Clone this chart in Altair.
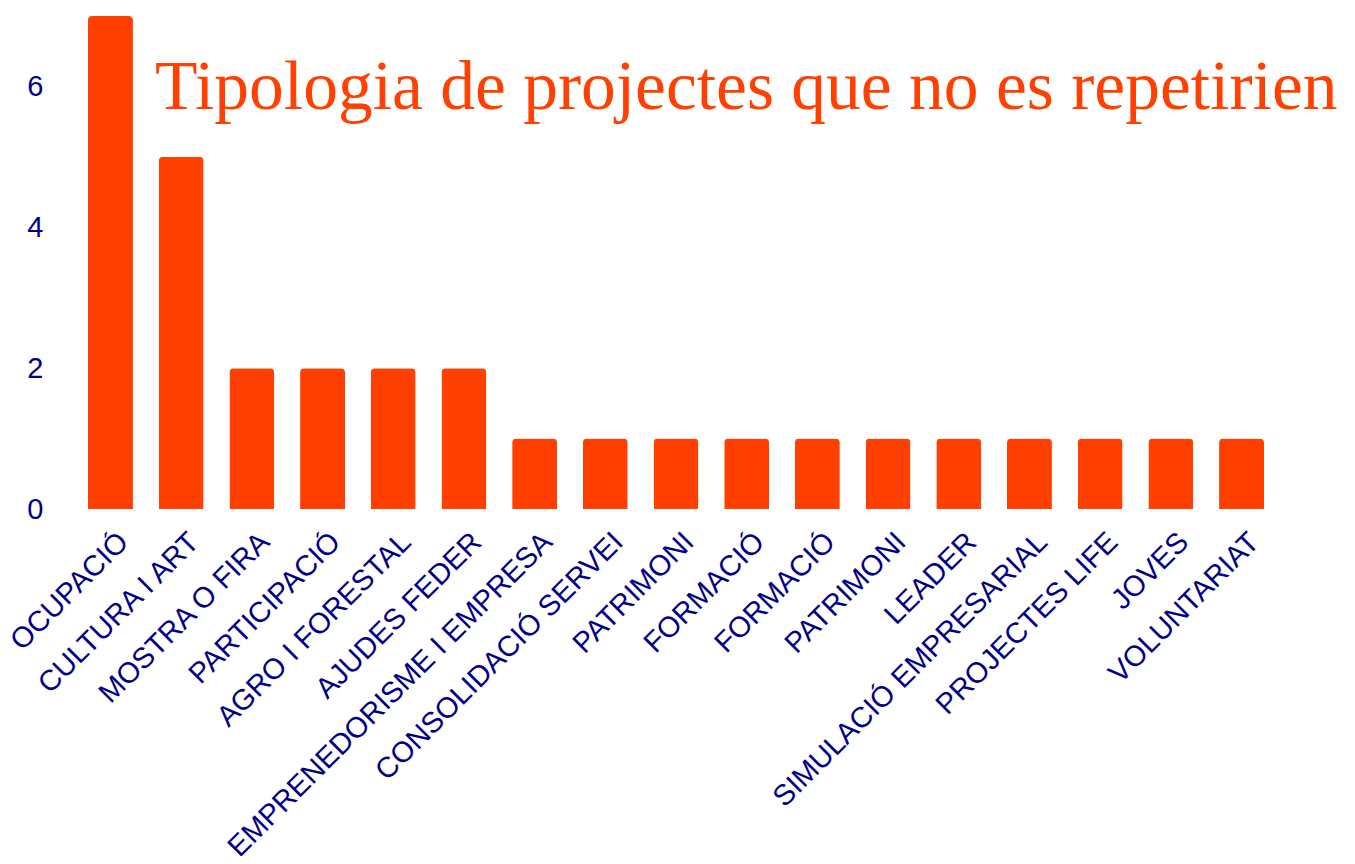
import json
import altair as alt
import pandas as pd

categories = [
    "OCUPACIÓ", "CULTURA I ART", "MOSTRA O FIRA", "PARTICIPACIÓ", "AGRO I FORESTAL",
    "AJUDES FEDER", "EMPRENEDORISME I EMPRESA", "CONSOLIDACIÓ SERVEI", "PATRIMONI",
    "FORMACIÓ", "FORMACIÓ", "PATRIMONI", "LEADER", "SIMULACIÓ EMPRESARIAL",
    "PROJECTES LIFE", "JOVES", "VOLUNTARIAT",
]
values = [7, 5, 2, 2, 2, 2, 1, 1, 1, 1, 1, 1, 1, 1, 1, 1, 1]
y_ticks = [0, 2, 4, 6]
title_text = "Tipologia de projectes que no es repetirien"

df = pd.DataFrame({"idx": list(range(len(categories))), "cat": categories, "val": values})

BAR = "#FF4000"
LAB = "#000088"

label_expr = json.dumps(categories, ensure_ascii=False) + "[datum.value]"

W, H = 1232, 493

bars = alt.Chart(df).mark_bar(
    color=BAR, cornerRadiusTopLeft=4, cornerRadiusTopRight=4
).encode(
    x=alt.X("idx:O", sort="ascending",
            scale=alt.Scale(paddingInner=0.364, paddingOuter=0.396),
            axis=alt.Axis(title=None, labelAngle=-45, labelExpr=label_expr,
                          domain=False, ticks=False, labelFontSize=29,
                          labelFont="Liberation Sans", labelColor=LAB,
                          labelAlign="right", labelBaseline="middle",
                          labelPadding=28, labelOffset=13,
                          labelOverlap=False, labelLimit=0)),
    y=alt.Y("val:Q", scale=alt.Scale(domain=[0, 7], nice=False),
            axis=alt.Axis(title=None, values=y_ticks, domain=False, ticks=False,
                          grid=False, labelFontSize=29, labelFont="Liberation Sans",
                          labelColor=LAB, labelPadding=17)),
)

title = alt.Chart(pd.DataFrame({"t": [title_text]})).mark_text(
    font="Liberation Serif", fontSize=69.5, color=BAR, align="left",
    baseline="alphabetic"
).encode(
    text="t:N", x=alt.value(95), y=alt.value(93)
)

chart = alt.layer(bars, title).properties(
    width=W, height=H,
    background="white",
    autosize=alt.AutoSizeParams(type="none"),
    padding={"left": 52, "top": 8, "right": 55, "bottom": 347},
).configure_view(strokeOpacity=0, strokeWidth=0)

chart.save("out.html", embed_options={"renderer": "svg", "actions": False})
